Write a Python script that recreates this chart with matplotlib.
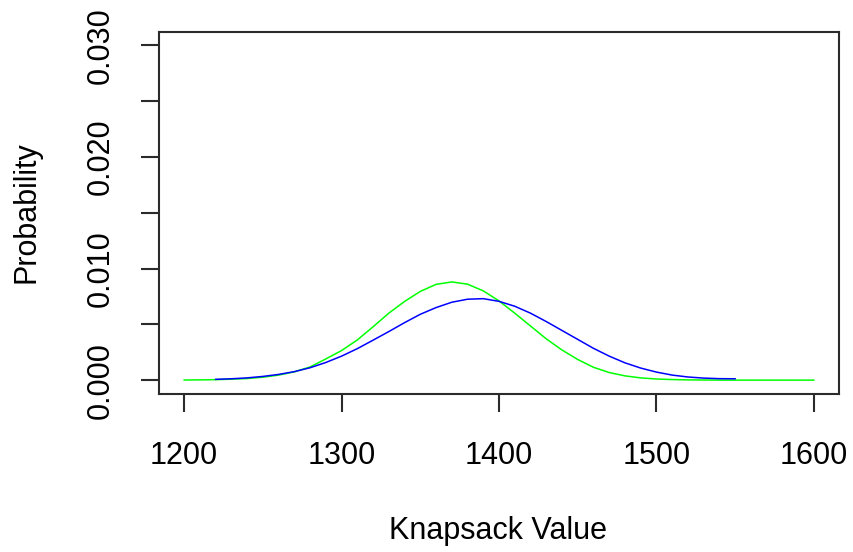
import matplotlib
matplotlib.use("Agg")
import matplotlib.pyplot as plt

# ---- data ----
green_x = [1200, 1210, 1220, 1230, 1240, 1250, 1260, 1270, 1280, 1290,
           1300, 1310, 1320, 1330, 1340, 1350, 1360, 1370, 1380, 1390,
           1400, 1410, 1420, 1430, 1440, 1450, 1460, 1470, 1480, 1490,
           1500, 1510, 1520, 1530, 1540, 1550, 1560, 1570, 1580, 1590, 1600]
green_p = [0.00001, 0.00002, 0.00004, 0.00008, 0.00014, 0.00026, 0.00045, 0.00074, 0.00118, 0.00190,
           0.00265, 0.00360, 0.00478, 0.00600, 0.00705, 0.00795, 0.00858, 0.00880, 0.00860, 0.00800,
           0.00710, 0.00600, 0.00485, 0.00370, 0.00270, 0.00185, 0.00115, 0.00068, 0.00038, 0.00020,
           0.00010, 0.00005, 0.00002, 0.00001, 0.0, 0.0, 0.0, 0.0, 0.0, 0.0, 0.0]

blue_x = [1220, 1230, 1240, 1250, 1260, 1270, 1280, 1290, 1300, 1310,
          1320, 1330, 1340, 1350, 1360, 1370, 1380, 1390, 1400, 1410,
          1420, 1430, 1440, 1450, 1460, 1470, 1480, 1490, 1500, 1510,
          1520, 1530, 1540, 1550]
blue_p = [0.00007, 0.00012, 0.00020, 0.00033, 0.00051, 0.00076, 0.00111, 0.00158, 0.00215, 0.00282,
          0.00358, 0.00435, 0.00515, 0.00590, 0.00650, 0.00698, 0.00725, 0.00730, 0.00706, 0.00662,
          0.00600, 0.00525, 0.00445, 0.00365, 0.00285, 0.00215, 0.00155, 0.00108, 0.00072, 0.00045,
          0.00028, 0.00018, 0.00013, 0.00012]

x_ticks = [1200, 1300, 1400, 1500, 1600]
y_ticks = [0.000, 0.005, 0.010, 0.015, 0.020, 0.025, 0.030]
y_tick_labels = ["0.000", "", "0.010", "", "0.020", "", "0.030"]

plt.rcParams['font.family'] = ['Liberation Sans', 'DejaVu Sans']

W, H = 854, 552
fig = plt.figure(figsize=(W / 100, H / 100), dpi=100)
ax = fig.add_axes([159 / W, 1 - 393.5 / H, (839 - 159) / W, (393.5 - 32) / H])

ax.plot(green_x, green_p, color='#00FF00', lw=1.1)
ax.plot(blue_x, blue_p, color='#0000FF', lw=1.1)

ax.set_xlim(1184, 1616)
ax.set_ylim(-0.0012, 0.0312)

ax.set_xticks(x_ticks)
ax.set_xticklabels([str(v) for v in x_ticks])
ax.set_yticks(y_ticks)
ax.set_yticklabels(y_tick_labels, rotation=90, va='center')

fs = 22
for s in ax.spines.values():
    s.set_linewidth(1.5)
    s.set_color('#2b2b2b')
ax.tick_params(axis='both', length=13, width=1.5, color='#2b2b2b',
               labelsize=fs, labelcolor='black')
ax.tick_params(axis='x', pad=21)
ax.tick_params(axis='y', pad=18)

fig.text(498.5 / W, 1 - 539 / H, "Knapsack Value", ha='center', va='baseline', fontsize=fs)
fig.text(27 / W, 1 - 212 / H, "Probability", ha='center', va='center', rotation=90, fontsize=fs)

fig.savefig("out.png", dpi=100)
